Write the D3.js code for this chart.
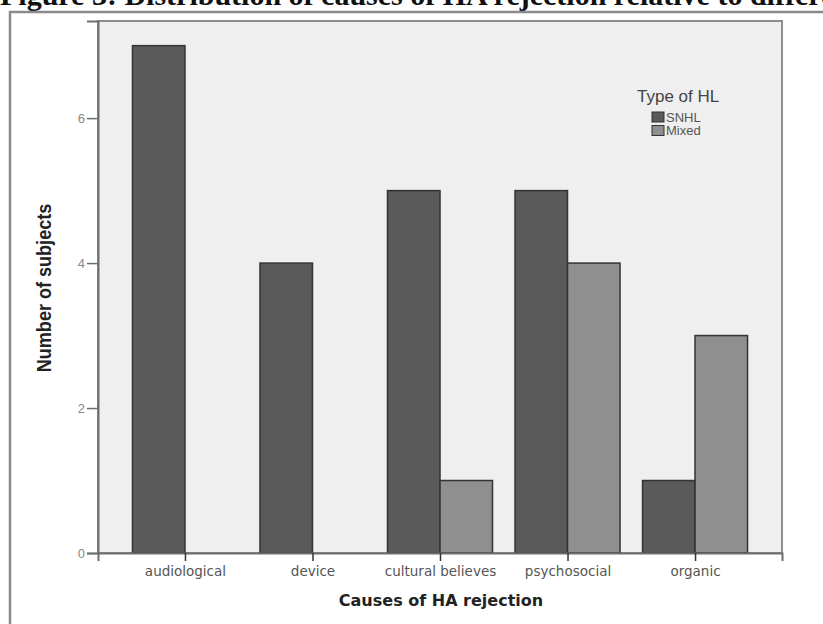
<!DOCTYPE html>
<html>
<head>
<meta charset="utf-8">
<script src="https://cdn.jsdelivr.net/npm/d3@7"></script>
<style>
  html, body { margin: 0; padding: 0; background: #fff; overflow: hidden; }
  svg { display: block; }
</style>
</head>
<body>
<div id="chart"></div>
<script>
// chart data
const causes = ['audiological', 'device', 'cultural believes', 'psychosocial', 'organic'];
const hlTypes = ['SNHL', 'Mixed'];
const snhlCounts = [7, 4, 5, 5, 1];
const mixedCounts = [0, 0, 1, 4, 3];
const yTicks = [0, 2, 4, 6];

const W = 823, H = 624;
const plot = {left: 98, right: 782, top: 21, bottom: 553};

const svg = d3.select('#chart').append('svg')
    .attr('width', W)
    .attr('height', H);

// figure caption, cut off by the top edge as in the source scan
svg.append('text')
    .attr('x', 0)
    .attr('y', 5)
    .attr('font-family', 'Liberation Serif, Times New Roman, serif')
    .attr('font-weight', 'bold')
    .attr('font-size', '30px')
    .attr('fill', '#111')
    .text('Figure 3: Distribution of causes of HA rejection relative to different types of HL');

// outer frame
svg.append('rect')
    .attr('x', 10).attr('y', 12)
    .attr('width', W + 20).attr('height', H + 20)
    .attr('fill', '#fff')
    .attr('stroke', '#8a8a8a')
    .attr('stroke-width', 2.5);

// plot background
svg.append('rect')
    .attr('x', plot.left).attr('y', plot.top)
    .attr('width', plot.right - plot.left)
    .attr('height', plot.bottom - plot.top)
    .attr('fill', '#efefef')
    .attr('stroke', '#8f8f8f')
    .attr('stroke-width', 2);

const x = d3.scalePoint()
    .domain(causes)
    .range([plot.left, plot.right])
    .padding(0.682);

const barW = 52.5;
const xInner = d3.scaleBand()
    .domain(hlTypes)
    .range([-barW, barW]);

const y = d3.scaleLinear()
    .domain([0, 7.34])
    .range([plot.bottom, plot.top]);

const color = d3.scaleOrdinal()
    .domain(hlTypes)
    .range(['#5a5a5a', '#8f8f8f']);

const flat = [];
causes.forEach((c, i) => {
    flat.push({cause: c, type: 'SNHL', count: snhlCounts[i]});
    flat.push({cause: c, type: 'Mixed', count: mixedCounts[i]});
});

svg.selectAll('.bar')
    .data(flat.filter(d => d.count > 0))
    .enter()
    .append('rect')
    .attr('class', 'bar')
    .attr('x', d => x(d.cause) + xInner(d.type))
    .attr('y', d => y(d.count))
    .attr('width', xInner.bandwidth())
    .attr('height', d => y(0) - y(d.count))
    .attr('fill', d => color(d.type))
    .attr('stroke', '#333')
    .attr('stroke-width', 1.5);

// y axis
const yAxis = svg.append('g')
    .attr('transform', `translate(${plot.left},0)`)
    .call(d3.axisLeft(y).tickValues(yTicks).tickSize(11).tickPadding(2));
yAxis.select('.domain').attr('stroke', '#6e6e6e').attr('stroke-width', 2);
yAxis.selectAll('.tick line').attr('stroke', '#6e6e6e').attr('stroke-width', 1.5);
yAxis.selectAll('.tick text')
    .attr('font-family', 'Liberation Sans, Arial, sans-serif')
    .attr('font-size', '13px')
    .attr('fill', '#888');

// x axis
const xAxis = svg.append('g')
    .attr('transform', `translate(0,${plot.bottom})`)
    .call(d3.axisBottom(x).tickSize(8).tickPadding(5));
xAxis.select('.domain').attr('stroke', '#6e6e6e').attr('stroke-width', 2);
xAxis.selectAll('.tick line').attr('stroke', '#333').attr('stroke-width', 1.5);
xAxis.selectAll('.tick text')
    .attr('font-family', 'DejaVu Sans, Verdana, sans-serif')
    .attr('font-size', '13.5px')
    .attr('fill', '#555');

// axis titles
svg.append('text')
    .attr('transform', 'translate(51,288) rotate(-90) scale(0.86,1)')
    .attr('text-anchor', 'middle')
    .attr('font-family', 'Liberation Sans, Arial, sans-serif')
    .attr('font-weight', 'bold')
    .attr('font-size', '21px')
    .attr('fill', '#222')
    .text('Number of subjects');

svg.append('text')
    .attr('x', 441)
    .attr('y', 606)
    .attr('text-anchor', 'middle')
    .attr('font-family', 'DejaVu Sans, Verdana, sans-serif')
    .attr('font-weight', 'bold')
    .attr('font-size', '16px')
    .attr('fill', '#222')
    .text('Causes of HA rejection');

// legend
const legend = svg.append('g').attr('transform', 'translate(637,0)');
legend.append('text')
    .attr('x', 0).attr('y', 102)
    .attr('font-family', 'Liberation Sans, Arial, sans-serif')
    .attr('font-size', '17px')
    .attr('fill', '#444')
    .text('Type of HL');
legend.selectAll('.sw')
    .data(hlTypes)
    .enter()
    .append('rect')
    .attr('x', 15)
    .attr('y', (d, i) => 112 + i * 13.5)
    .attr('width', 12).attr('height', 10)
    .attr('fill', d => color(d))
    .attr('stroke', '#333')
    .attr('stroke-width', 1);
legend.selectAll('.lab')
    .data(hlTypes)
    .enter()
    .append('text')
    .attr('x', 29)
    .attr('y', (d, i) => 121.5 + i * 13.5)
    .attr('font-family', 'Liberation Sans, Arial, sans-serif')
    .attr('font-size', '13px')
    .attr('fill', '#555')
    .text(d => d);
</script>
</body>
</html>
